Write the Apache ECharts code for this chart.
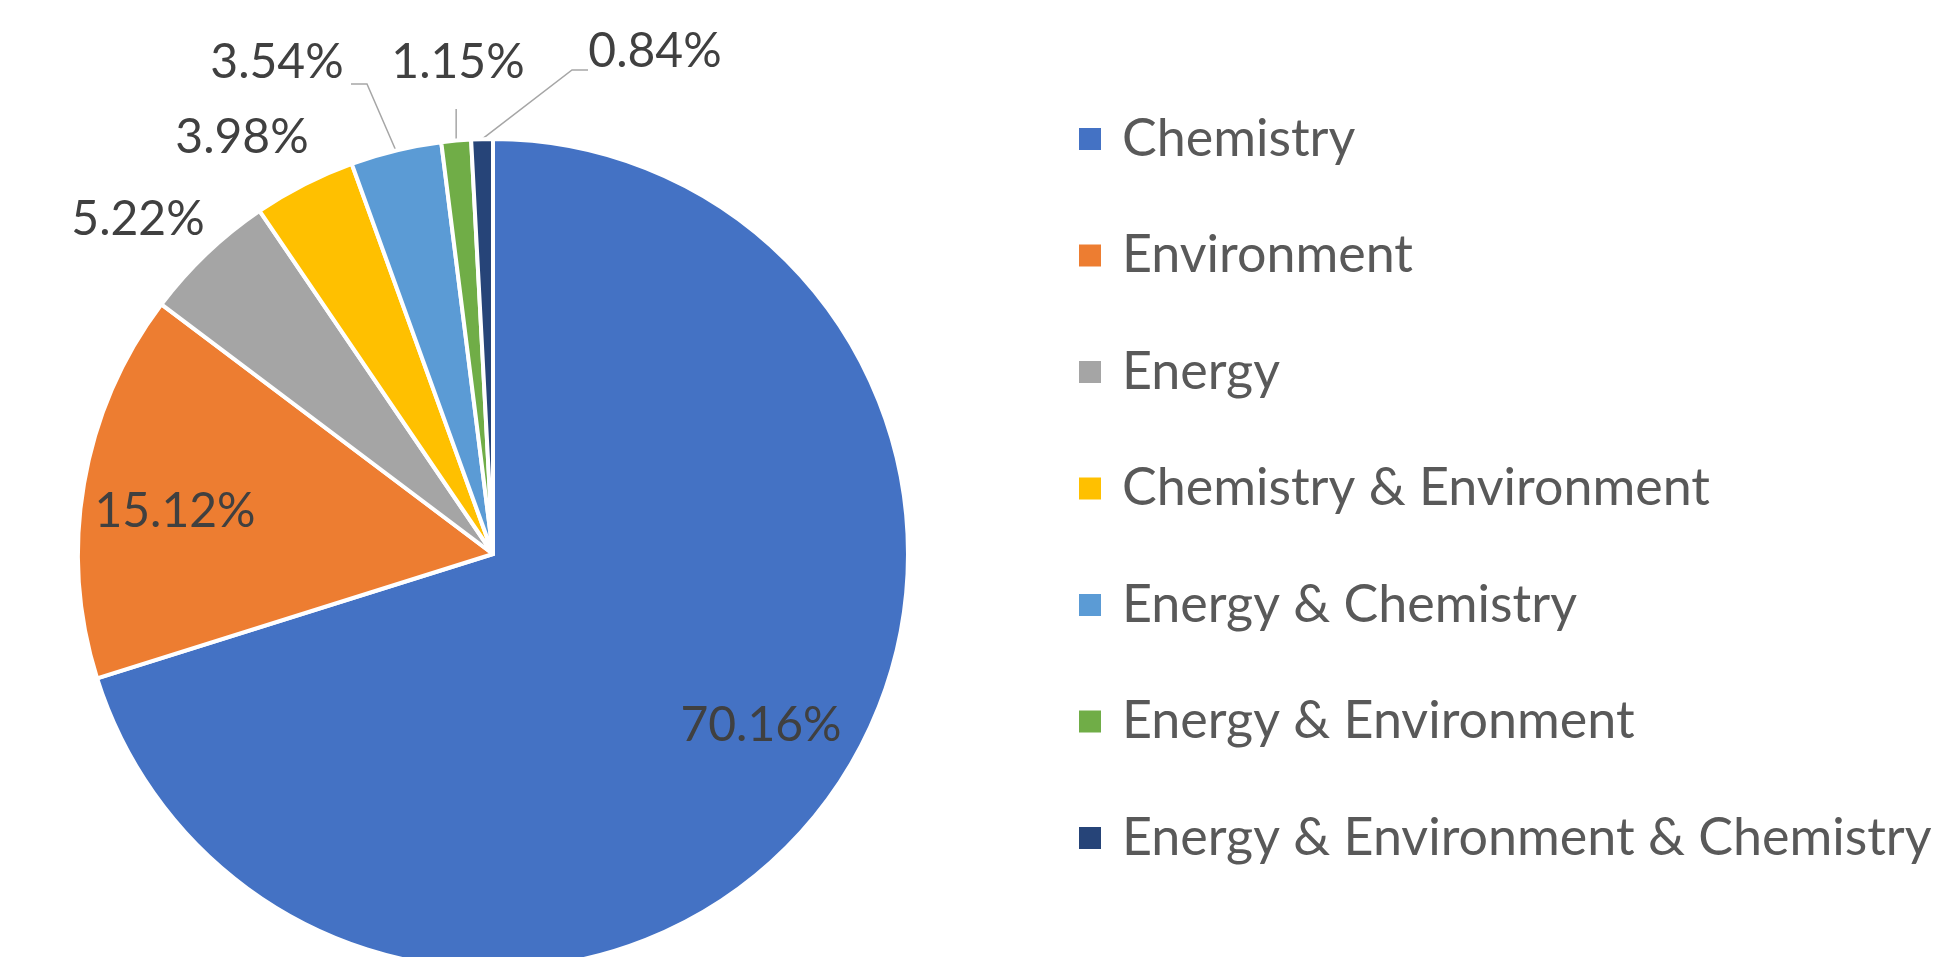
<!DOCTYPE html>
<html>
<head>
<meta charset="utf-8">
<script src="https://cdn.jsdelivr.net/npm/echarts@6/dist/echarts.min.js"></script>
<style>
  html, body { margin: 0; padding: 0; background: #ffffff; }
  #chart { width: 1936px; height: 957px; }
</style>
</head>
<body>
<div id="chart"></div>
<script>
// ---- data ----
const categories = [
  'Chemistry',
  'Environment',
  'Energy',
  'Chemistry & Environment',
  'Energy & Chemistry',
  'Energy & Environment',
  'Energy & Environment & Chemistry'
];
const values = [70.16, 15.12, 5.22, 3.98, 3.54, 1.15, 0.84];
const colors = ['#4472C4', '#ED7D31', '#A5A5A5', '#FFC000', '#5B9BD5', '#70AD47', '#264478'];

// ---- label layout (text anchor positions, leader-line bends) ----
const labelPlacement = ['inside', 'inside', 'outside', 'outside', 'outside', 'outside', 'outside'];
const showLeader = [false, false, false, false, true, true, true];
const labelAnchors = [
  [761, 726], [175, 512], [138, 220], [242, 138], [277, 63], [458, 63], [655, 52]
];
const leaderBends = [null, null, null, null, [[367, 84], [351, 84]], [[null, 109]], [[572, 70], [588, 70]]];

const FONT = 'Lato';
const chart = echarts.init(document.getElementById('chart'), null, { renderer: 'canvas' });

const seriesData = categories.map((name, i) => ({
  name: name,
  value: values[i],
  itemStyle: { color: colors[i] },
  label: { position: labelPlacement[i] },
  labelLine: { show: showLeader[i] }
}));

chart.setOption({
  animation: false,
  backgroundColor: '#ffffff',
  legend: {
    orient: 'vertical',
    left: 1074,
    top: 106,
    itemWidth: 22,
    itemHeight: 22,
    itemGap: 60.5,
    icon: 'rect',
    itemStyle: { borderWidth: 0 },
    data: categories,
    selectedMode: false,
    textStyle: {
      fontFamily: FONT,
      fontSize: 52,
      color: '#595959',
      lineHeight: 56,
      padding: [0, 0, 0, 16]
    }
  },
  series: [{
    type: 'pie',
    center: [493, 554],
    radius: 415,
    startAngle: 90,
    clockwise: true,
    avoidLabelOverlap: false,
    emphasis: { disabled: true },
    itemStyle: { borderColor: '#ffffff', borderWidth: 4 },
    label: {
      show: true,
      fontFamily: FONT,
      fontSize: 48,
      color: '#404040',
      formatter: p => p.value.toFixed(2) + '%'
    },
    labelLine: {
      show: true,
      length: 20,
      length2: 10,
      lineStyle: { color: '#A6A6A6', width: 1.5 }
    },
    labelLayout: function (params) {
      const i = params.dataIndex;
      const res = {
        x: labelAnchors[i][0],
        y: labelAnchors[i][1],
        align: 'center',
        verticalAlign: 'middle'
      };
      if (leaderBends[i] && params.labelLinePoints) {
        const p0 = params.labelLinePoints[0];
        const pts = [[p0[0], p0[1]]];
        leaderBends[i].forEach(b => pts.push([b[0] == null ? p0[0] : b[0], b[1]]));
        res.labelLinePoints = pts;
      }
      return res;
    },
    data: seriesData
  }]
});
</script>
</body>
</html>
